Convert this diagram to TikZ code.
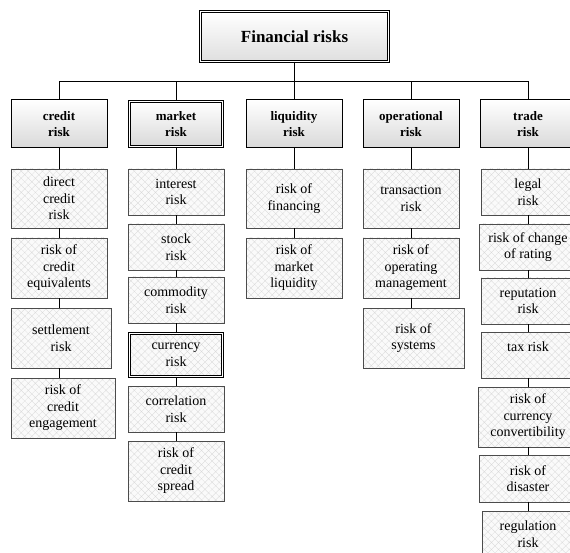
\documentclass[tikz,border=0pt]{standalone}
\usepackage{fontspec}
\setmainfont{Liberation Serif}
\usetikzlibrary{patterns.meta}

\begin{document}
\begin{tikzpicture}[x=1pt, y=-1pt,
    title/.style={draw, double, double distance=1.4pt, line width=0.9pt, top color=white, bottom color=gray!25, align=center, inner sep=0pt, minimum width=188, minimum height=50, font=\fontsize{17}{20}\selectfont\bfseries},
    head/.style={draw, line width=1pt, top color=white, bottom color=gray!30, align=center, inner sep=0pt, minimum width=96, minimum height=48, font=\fontsize{13}{15.5}\selectfont\bfseries},
    sub/.style={draw=black!70, line width=0.9pt, preaction={fill=gray!4}, pattern={Hatch[angle=45,distance=5pt,line width=0.3pt]}, pattern color=gray!30, align=center, inner sep=0pt, minimum width=96, font=\fontsize{14}{16.5}\selectfont},
    dbl/.style={draw=black, double, double distance=1.4pt, line width=0.9pt},
    link/.style={line width=1pt}]
  \useasboundingbox (0,0) rectangle (570,553);
  \clip (0,0) rectangle (570,553);

  \node[title] (fin) at (294.5,36.5) {Financial risks};
  \coordinate (bus) at (294.5,82);

  % main groups
  \node[head] (credit) at (59,124) {credit\\risk};
  \node[head, dbl, minimum width=93, minimum height=45] (market) at (176,124) {market\\risk};
  \node[head] (liquidity) at (294,124) {liquidity\\risk};
  \node[head] (operational) at (411,124) {operational\\risk};
  \node[head] (trade) at (528,124) {trade\\risk};

  % credit risk
  \node[sub, minimum height=59] (cr1) at (59,198.5) {direct\\credit\\risk};
  \node[sub, minimum height=60] (cr2) at (59,268) {risk of\\credit\\equivalents};
  \node[sub, minimum width=100, minimum height=60] (cr3) at (61,338) {settlement\\risk};
  \node[sub, minimum width=104, minimum height=60] (cr4) at (63,408) {risk of\\credit\\engagement};

  % market risk
  \node[sub, minimum height=46] (mk1) at (176,192) {interest\\risk};
  \node[sub, minimum height=46] (mk2) at (176,247) {stock\\risk};
  \node[sub, minimum height=46] (mk3) at (176,300) {commodity\\risk};
  \node[sub, dbl, minimum width=93, minimum height=43] (mk4) at (176,355) {currency\\risk};
  \node[sub, minimum height=46] (mk5) at (176,409) {correlation\\risk};
  \node[sub, minimum height=60] (mk6) at (176,471) {risk of\\credit\\spread};

  % liquidity risk
  \node[sub, minimum height=59] (lq1) at (294,198.5) {risk of\\financing};
  \node[sub, minimum height=60] (lq2) at (294,268) {risk of\\market\\liquidity};

  % operational risk
  \node[sub, minimum height=59] (op1) at (411,198.5) {transaction\\risk};
  \node[sub, minimum height=60] (op2) at (411,268) {risk of\\operating\\management};
  \node[sub, minimum width=101, minimum height=60] (op3) at (413.5,338) {risk of\\systems};

  % trade risk
  \node[sub, minimum width=94, minimum height=46] (tr1) at (528,192) {legal\\risk};
  \node[sub, minimum width=98, minimum height=46] (tr2) at (528,247) {risk of change\\of rating};
  \node[sub, minimum width=94, minimum height=46] (tr3) at (528,301) {reputation\\risk};
  \node[sub, minimum width=94, minimum height=46] (tr4) at (528,355) {tax risk\\\phantom{x}};
  \node[sub, minimum width=100, minimum height=60] (tr5) at (528,417) {risk of\\currency\\convertibility};
  \node[sub, minimum width=98, minimum height=47] (tr6) at (528,478.5) {risk of\\disaster};
  \node[sub, minimum width=92, minimum height=46] (tr7) at (528,534) {regulation\\risk};

  % connectors
  \draw[link] (fin) -- (bus);
  \foreach \n in {credit,market,liquidity,operational,trade}
    \draw[link] (bus) -| (\n);
  \foreach \a/\b in {credit/cr1, cr1/cr2, cr2/cr3, cr3/cr4}
    \draw[link] (\a.south -| credit) -- (\b.north -| credit);
  \foreach \a/\b in {market/mk1, mk1/mk2, mk2/mk3, mk3/mk4, mk4/mk5, mk5/mk6}
    \draw[link] (\a.south -| market) -- (\b.north -| market);
  \foreach \a/\b in {liquidity/lq1, lq1/lq2}
    \draw[link] (\a.south -| liquidity) -- (\b.north -| liquidity);
  \foreach \a/\b in {operational/op1, op1/op2, op2/op3}
    \draw[link] (\a.south -| operational) -- (\b.north -| operational);
  \foreach \a/\b in {trade/tr1, tr1/tr2, tr2/tr3, tr3/tr4, tr4/tr5, tr5/tr6, tr6/tr7}
    \draw[link] (\a.south -| trade) -- (\b.north -| trade);
\end{tikzpicture}
\end{document}
